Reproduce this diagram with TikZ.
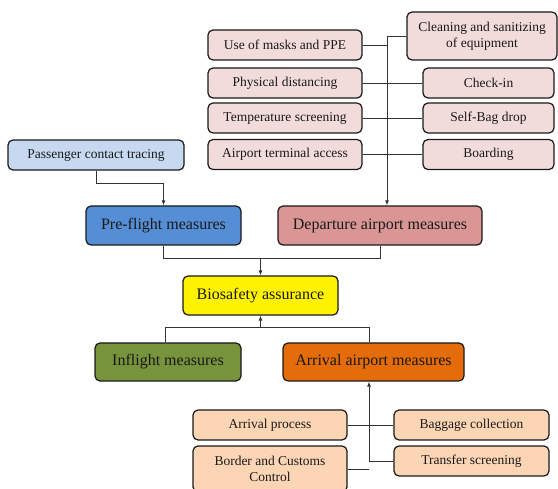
\documentclass[tikz,border=0pt]{standalone}
\usepackage{fontspec}
\setmainfont{Liberation Serif}
\usetikzlibrary{positioning,arrows.meta,calc}
\definecolor{pinklt}{HTML}{F2DCDB}
\definecolor{bluelt}{HTML}{C6D9F1}
\definecolor{bluemd}{HTML}{558ED5}
\definecolor{pinkmd}{HTML}{D99694}
\definecolor{greenmd}{HTML}{77933C}
\definecolor{orangemd}{HTML}{E46C0A}
\definecolor{peach}{HTML}{FCD5B5}

\begin{document}
\begin{tikzpicture}[
    x=1pt, y=-1pt,
    every node/.style={font=\fontsize{13.5}{16}\selectfont, text=black!90},
    item/.style={
        rectangle, rounded corners=5pt, draw=black!90, line width=1.2pt,
        minimum height=30pt, align=center, inner sep=2pt
    },
    group/.style={
        rectangle, rounded corners=5pt, draw=black!90, line width=1.2pt,
        minimum height=39pt, align=center, font=\fontsize{16}{19}\selectfont
    },
    conn/.style={draw=black!80, line width=0.9pt},
    arr/.style={conn, -{Latex[length=5pt,width=4pt]}}
]
\useasboundingbox (0,0) rectangle (558,489);

% y coords
\def\yJ{258}    % pre-flight / departure join
\def\yK{327}    % inflight / arrival join

% ── Departure items ─────────────────────────────────────────
\node[item, fill=pinklt, minimum width=154pt] (masks)    at (285, 45)    {Use of masks and PPE};
\node[item, fill=pinklt, minimum width=154pt] (distance) at (285, 83)    {Physical distancing};
\node[item, fill=pinklt, minimum width=154pt] (temp)     at (285, 118)   {Temperature screening};
\node[item, fill=pinklt, minimum width=154pt] (access)   at (285, 154.5) {Airport terminal access};
\node[item, fill=pinklt, minimum width=150pt, minimum height=48pt] (clean) at (482, 36)
  {Cleaning and sanitizing\\of equipment};
\node[item, fill=pinklt, minimum width=131pt] (checkin)  at (488.5, 83)    {Check-in};
\node[item, fill=pinklt, minimum width=131pt] (bagdrop)  at (488.5, 118)   {Self-Bag drop};
\node[item, fill=pinklt, minimum width=131pt] (boarding) at (488.5, 154.5) {Boarding};

% ── Pre-flight item ─────────────────────────────────────────
\node[item, fill=bluelt, minimum width=176pt] (tracing) at (96, 155) {Passenger contact tracing};

% ── Main groups ─────────────────────────────────────────────
\node[group, fill=bluemd,   minimum width=155pt] (pre)  at (163.5, 225.5) {Pre-flight measures};
\node[group, fill=pinkmd,   minimum width=204pt] (dep)  at (380, 225.5)   {Departure airport measures};
\node[group, fill=yellow,   minimum width=155pt] (bio)  at (260.5, 295.5) {Biosafety assurance};
\node[group, fill=greenmd,  minimum width=146pt, minimum height=38pt] (infl) at (168, 362)   {Inflight measures};
\node[group, fill=orangemd, minimum width=181pt, minimum height=38pt] (arrv) at (373.5, 362) {Arrival airport measures};

% ── Arrival items ───────────────────────────────────────────
\node[item, fill=peach, minimum width=154pt] (arrproc)  at (270, 425) {Arrival process};
\node[item, fill=peach, minimum width=154pt, minimum height=46pt] (border) at (270, 469)
  {Border and Customs\\Control};
\node[item, fill=peach, minimum width=155pt] (baggage)  at (471.5, 425) {Baggage collection};
\node[item, fill=peach, minimum width=155pt] (transfer) at (471.5, 461) {Transfer screening};

% ── Departure trunk ─────────────────────────────────────────
\coordinate (dtop) at (387, 36);
\draw[arr]  (dtop) -- (dtop |- dep.north);
\draw[conn] (clean.west) -- (dtop);
\draw[conn] (masks.east) -- (masks.east -| dtop);
\draw[conn] (distance.east) -- (checkin.west);
\draw[conn] (temp.east) -- (bagdrop.west);
\draw[conn] (access.east) -- (boarding.west);

% ── Contact tracing to pre-flight ───────────────────────────
\draw[arr] (tracing.south) -- ++(0,13) -| (pre.north);

% ── Joins around biosafety ──────────────────────────────────
\draw[conn] (pre.south) -- (pre.south |- 0,\yJ) -- (dep.south |- 0,\yJ) -- (dep.south);
\draw[arr]  (bio.north |- 0,\yJ) -- (bio.north);
\draw[conn] ([xshift=-3pt]infl.north) -- ([xshift=-3pt]infl.north |- 0,\yK)
  -- ([xshift=-4pt]arrv.north |- 0,\yK) -- ([xshift=-4pt]arrv.north);
\draw[arr]  (bio.south |- 0,\yK) -- (bio.south);

% ── Arrival trunk ───────────────────────────────────────────
\coordinate (atrunk) at (369, 461);
\draw[arr]  (atrunk) -- (atrunk |- arrv.south);
\draw[conn] (transfer.west) -- (atrunk);
\draw[conn] (border.east) -- (border.east -| atrunk);
\draw[conn] (arrproc.east) -- (baggage.west);

\end{tikzpicture}
\end{document}
